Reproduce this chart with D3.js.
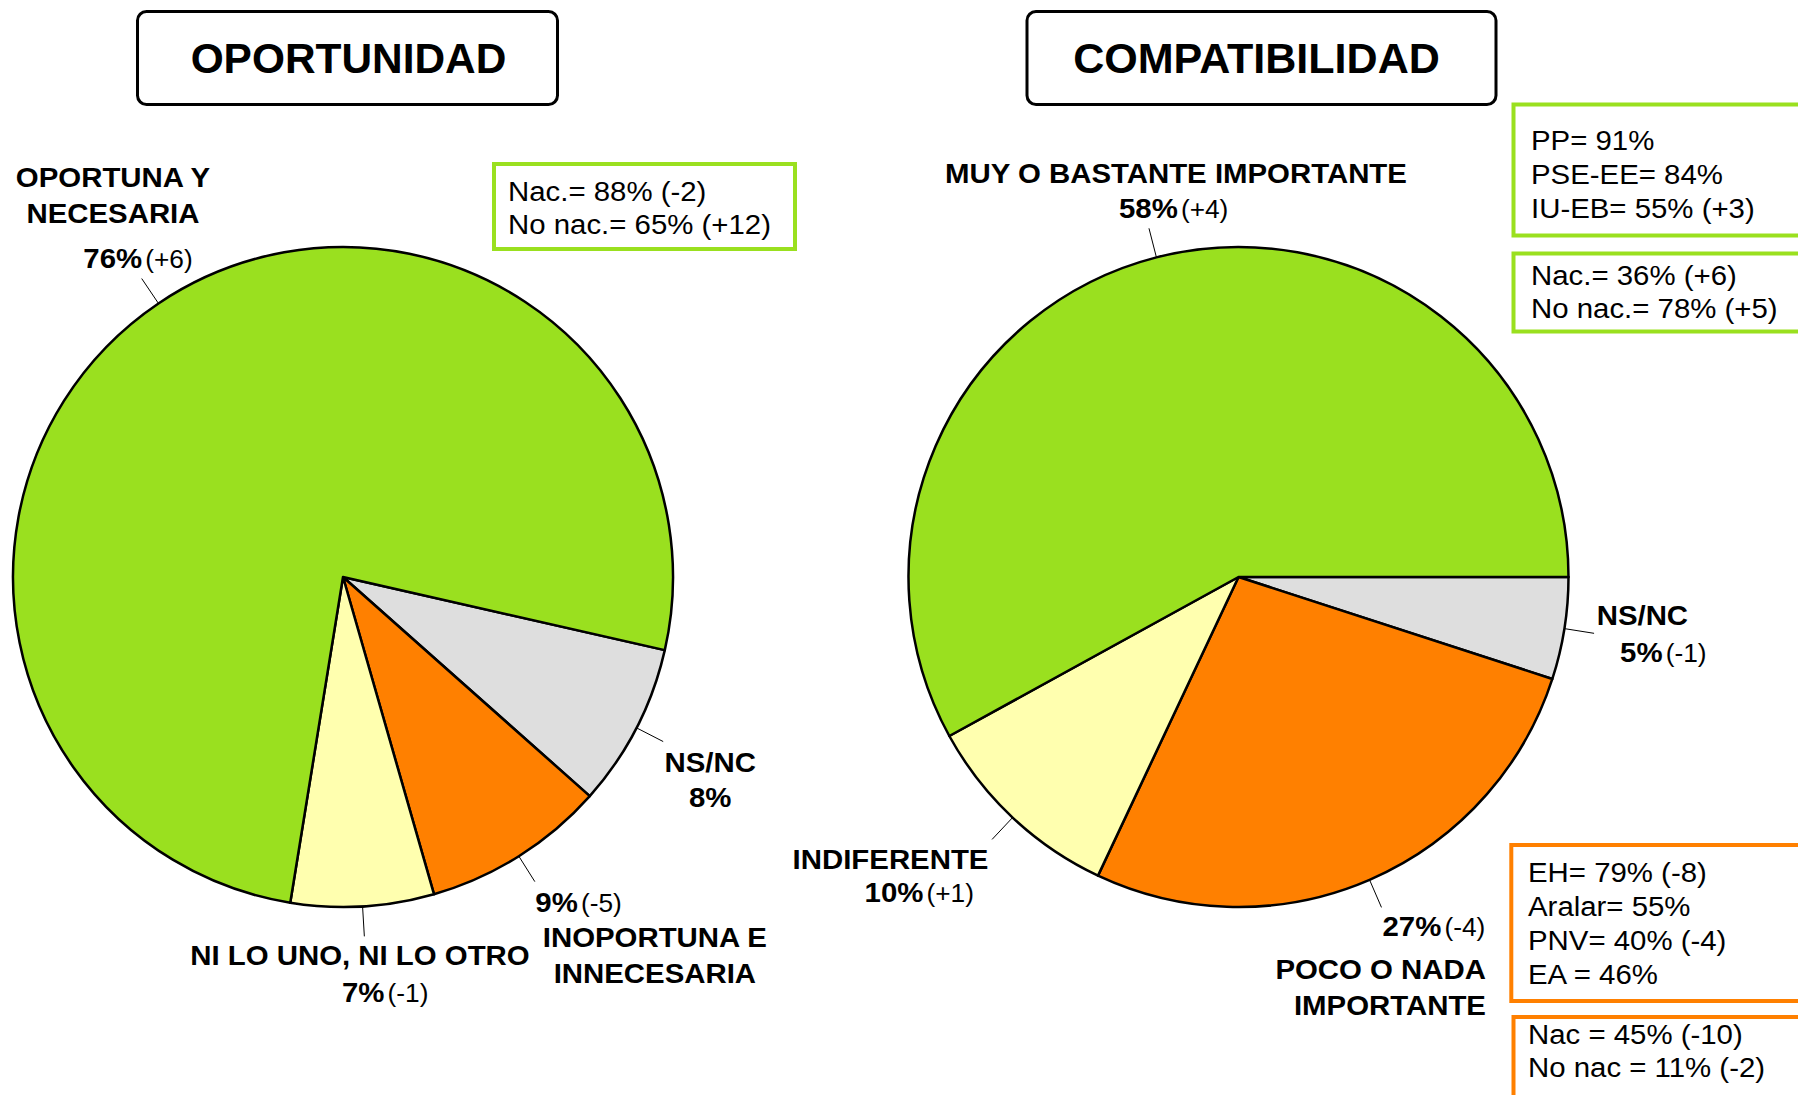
<!DOCTYPE html>
<html>
<head>
<meta charset="utf-8">
<script src="https://cdn.jsdelivr.net/npm/d3@7"></script>
<style>
  body { margin: 0; background: #fff; }
  svg { display: block; font-family: "Liberation Sans", Arial, sans-serif; }
</style>
</head>
<body>
<div id="chart"></div>
<script>
// slice order: NS/NC, negative, neutral, positive
var sliceColors = ["#dedede", "#ff8000", "#ffffaf", "#9ae01f"];

// OPORTUNIDAD
var opLabels = [["NS/NC"], ["INOPORTUNA E", "INNECESARIA"], ["NI LO UNO, NI LO OTRO"], ["OPORTUNA Y", "NECESARIA"]];
var opValues = [8, 9, 7, 76];
var opDeltas = ["", "(-5)", "(-1)", "(+6)"];
var opBox = ["Nac.= 88% (-2)", "No nac.= 65% (+12)"];

// COMPATIBILIDAD
var compLabels = [["NS/NC"], ["POCO O NADA", "IMPORTANTE"], ["INDIFERENTE"], ["MUY O BASTANTE IMPORTANTE"]];
var compValues = [5, 27, 10, 58];
var compDeltas = ["(-1)", "(-4)", "(+1)", "(+4)"];
var compPosParty = ["PP= 91%", "PSE-EE= 84%", "IU-EB= 55% (+3)"];
var compPosNac = ["Nac.= 36% (+6)", "No nac.= 78% (+5)"];
var compNegParty = ["EH= 79% (-8)", "Aralar= 55%", "PNV= 40% (-4)", "EA = 46%"];
var compNegNac = ["Nac = 45% (-10)", "No nac = 11% (-2)"];

var width = 1798, height = 1095;
var radius = 330, leader = 30;
var stretch = 1.05; // text in the original is a little wide

var svg = d3.select("#chart")
  .append("svg")
  .attr("width", width)
  .attr("height", height);

// text placed with a horizontal stretch
function placed(sel, x, y, sx) {
  return sel.attr("transform", "translate(" + x + "," + y + ") scale(" + sx + ",1)");
}

// title boxes
function titleBox(x, w, txt, sx, dx) {
  svg.append("rect")
    .attr("x", x).attr("y", 11.5)
    .attr("width", w).attr("height", 93)
    .attr("rx", 9)
    .attr("fill", "#fff")
    .attr("stroke", "#000")
    .attr("stroke-width", 3);
  placed(svg.append("text"), x + w / 2 + dx, 73, sx)
    .attr("text-anchor", "middle")
    .attr("font-size", 42)
    .attr("font-weight", "bold")
    .text(txt);
}
titleBox(137.5, 420, "OPORTUNIDAD", 1.01, 1);
titleBox(1027, 469, "COMPATIBILIDAD", 1.025, -5);

// info boxes
function infoBox(x, y, w, h, color, lines, tx, ty, lh) {
  svg.append("rect")
    .attr("x", x).attr("y", y)
    .attr("width", w).attr("height", h)
    .attr("fill", "#fff")
    .attr("stroke", color)
    .attr("stroke-width", 4);
  lines.forEach(function (d, i) {
    placed(svg.append("text"), tx, ty + i * lh, stretch)
      .attr("font-size", 28)
      .text(d);
  });
}

function drawPie(cx, cy, values, labels, deltas, startDeg, layout) {
  var start = startDeg * Math.PI / 180;
  var pie = d3.pie().sort(null).startAngle(start).endAngle(start + 2 * Math.PI);
  var arcs = pie(values);
  var arc = d3.arc().innerRadius(0).outerRadius(radius);

  var g = svg.append("g")
    .attr("transform", "translate(" + cx + "," + cy + ")");

  g.selectAll("path")
    .data(arcs)
    .enter()
    .append("path")
    .attr("d", arc)
    .attr("fill", function (d, i) { return sliceColors[i] })
    .attr("stroke", "#000")
    .attr("stroke-width", 2.5)
    .attr("stroke-linejoin", "round");

  arcs.forEach(function (d, i) {
    var mid = (d.startAngle + d.endAngle) / 2;
    var x0 = radius * Math.sin(mid), y0 = -radius * Math.cos(mid);
    var x1 = (radius + leader) * Math.sin(mid), y1 = -(radius + leader) * Math.cos(mid);
    // leader line
    g.append("line")
      .attr("x1", x0).attr("y1", y0)
      .attr("x2", x1).attr("y2", y1)
      .attr("stroke", "#000")
      .attr("stroke-width", 1);

    var L = layout[i];
    // category lines
    labels[i].forEach(function (line, j) {
      placed(g.append("text"), x1 + L.cat[0], y1 + L.cat[1] + j * 36, stretch)
        .attr("text-anchor", L.cat[2])
        .attr("font-size", 28)
        .attr("font-weight", "bold")
        .text(line);
    });
    // percentage + change
    var t = placed(g.append("text"), x1 + L.pct[0], y1 + L.pct[1], stretch)
      .attr("text-anchor", L.pct[2]);
    t.append("tspan")
      .attr("font-size", 28)
      .attr("font-weight", "bold")
      .text(values[i] + "%");
    if (deltas[i] != "") {
      t.append("tspan")
        .attr("dx", 3)
        .attr("font-size", 25)
        .text(deltas[i]);
    }
  });
}

// label offsets from leader end: [dx, dy, anchor]
var opLayout = [
  { cat: [47, 30, "middle"], pct: [47, 65, "middle"] },
  { cat: [120, 65, "middle"], pct: [0.5, 30, "start"] },
  { cat: [-4.4, 28.6, "middle"], pct: [-22.4, 65.3, "start"] },
  { cat: [-28.7, -91.6, "middle"], pct: [-58.4, -10.3, "start"] }
];
var compLayout = [
  { cat: [2.6, -8, "start"], pct: [26, 28.4, "start"] },
  { cat: [104.5, 71.6, "end"], pct: [1, 28.6, "start"] },
  { cat: [-3.6, 29.6, "end"], pct: [-127.5, 63, "start"] },
  { cat: [27, -45.3, "middle"], pct: [-30, -10, "start"] }
];

drawPie(343, 577, opValues, opLabels, opDeltas, 102.8, opLayout);
drawPie(1238.5, 577, compValues, compLabels, compDeltas, 90, compLayout);

infoBox(494, 164, 301, 85, "#9ae01f", opBox, 508, 201, 33);
infoBox(1513.5, 104.5, 400, 131, "#9ae01f", compPosParty, 1531, 150, 34);
infoBox(1513.5, 253.5, 400, 78, "#9ae01f", compPosNac, 1531, 285, 33);
infoBox(1511.3, 845, 400, 156, "#ff8000", compNegParty, 1528, 882, 34);
infoBox(1513.5, 1017, 400, 200, "#ff8000", compNegNac, 1528, 1043.5, 33.5);
</script>
</body>
</html>
